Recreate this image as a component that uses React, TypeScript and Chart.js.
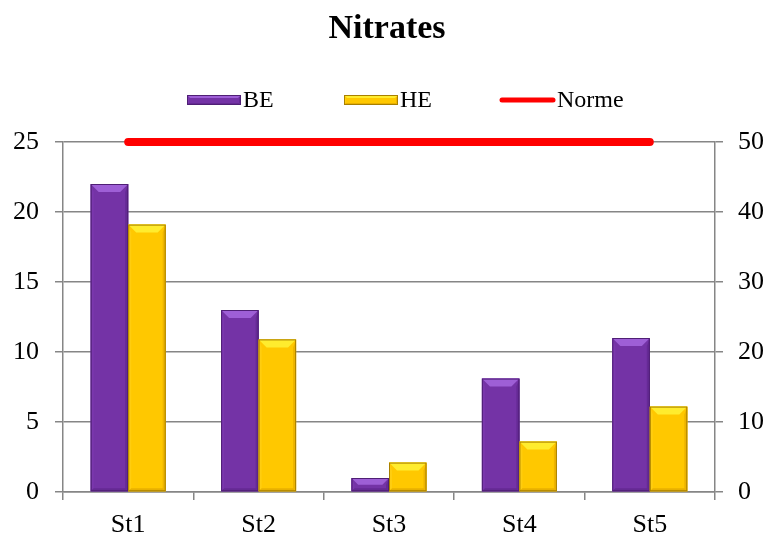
import React, { useEffect, useRef } from "react";
import { Chart, registerables } from "chart.js";

Chart.register(...registerables);

const categories = ["St1", "St2", "St3", "St4", "St5"];
const beValues = [22, 13, 1, 8.1, 11];
const heValues = [19.1, 10.9, 2.1, 3.6, 6.1];
const normeValues = [50, 50, 50, 50, 50];
const chartTitle = "Nitrates";
const seriesNames = ["BE", "HE", "Norme"];

const FONT = "'Liberation Serif', 'Times New Roman', serif";
const GRID = "#868686";

type Pal = { base: string; top: string; left: string; right: string; bottom: string; border: string };
const PURPLE: Pal = { base: "#7433A6", top: "#9E5FD6", left: "#7A37AD", right: "#652A95", bottom: "#652A93", border: "#4F1F75" };
const YELLOW: Pal = { base: "#FFC800", top: "#FFEC2E", left: "#FFCD10", right: "#EDB400", bottom: "#E8B000", border: "#A88000" };

function bevelRect(ctx: CanvasRenderingContext2D, l: number, t: number, r: number, b: number, p: Pal, tbMax: number, sMax: number) {
  const h = b - t;
  const w = r - l;
  const tb = Math.max(0, Math.min(tbMax, h / 2, w / 2));
  const s = Math.max(0, Math.min(sMax, h / 2, w / 2));
  ctx.save();
  ctx.fillStyle = p.base;
  ctx.fillRect(l, t, w, h);
  const poly = (pts: number[][], c: string) => {
    ctx.beginPath();
    ctx.moveTo(pts[0][0], pts[0][1]);
    for (let i = 1; i < pts.length; i++) ctx.lineTo(pts[i][0], pts[i][1]);
    ctx.closePath();
    ctx.fillStyle = c;
    ctx.fill();
  };
  poly([[l, t], [l + s, t + tb], [l + s, b - s], [l, b]], p.left);
  poly([[r, t], [r - s, t + tb], [r - s, b - s], [r, b]], p.right);
  poly([[l, b], [l + s, b - s], [r - s, b - s], [r, b]], p.bottom);
  poly([[l, t], [r, t], [r - tb, t + tb], [l + tb, t + tb]], p.top);
  ctx.strokeStyle = p.border;
  ctx.lineWidth = 1;
  ctx.strokeRect(l + 0.5, t + 0.5, w - 1, h - 1);
  ctx.restore();
}

const decoPlugin = {
  id: "deco",
  afterDatasetsDraw(chart: any) {
    const ctx = chart.ctx as CanvasRenderingContext2D;
    [0, 1].forEach((di) => {
      const meta = chart.getDatasetMeta(di);
      const pal = di === 0 ? PURPLE : YELLOW;
      meta.data.forEach((el: any) => {
        const { x, y, base, width } = el.getProps(["x", "y", "base", "width"], true);
        bevelRect(ctx, x - width / 2, y, x + width / 2, base, pal, 8, 3);
      });
    });
  },
  afterDraw(chart: any) {
    const ctx = chart.ctx as CanvasRenderingContext2D;
    ctx.save();
    ctx.fillStyle = "#000";
    ctx.font = `bold 34px ${FONT}`;
    ctx.textAlign = "center";
    ctx.textBaseline = "alphabetic";
    ctx.fillText(chartTitle, 387, 38);
    ctx.font = `24px ${FONT}`;
    ctx.textAlign = "left";
    ctx.textBaseline = "middle";
    const ly = 100;
    bevelRect(ctx, 187, ly - 5, 241, ly + 5, PURPLE, 3, 2);
    ctx.fillStyle = "#000";
    ctx.fillText(seriesNames[0], 243, ly + 1);
    bevelRect(ctx, 344, ly - 5, 398, ly + 5, YELLOW, 3, 2);
    ctx.fillStyle = "#000";
    ctx.fillText(seriesNames[1], 400, ly + 1);
    ctx.strokeStyle = "#FF0000";
    ctx.lineWidth = 5;
    ctx.lineCap = "round";
    ctx.beginPath();
    ctx.moveTo(502, ly);
    ctx.lineTo(553, ly);
    ctx.stroke();
    ctx.fillStyle = "#000";
    ctx.fillText(seriesNames[2], 557, ly + 1);
    ctx.restore();
  },
};

export default function App() {
  const ref = useRef<HTMLCanvasElement>(null);
  useEffect(() => {
    if (!ref.current) return;
    const chart = new Chart(ref.current, {
      type: "bar",
      data: {
        labels: categories,
        datasets: [
          { type: "bar", label: seriesNames[0], data: beValues, backgroundColor: PURPLE.base, yAxisID: "y", order: 2 },
          { type: "bar", label: seriesNames[1], data: heValues, backgroundColor: YELLOW.base, yAxisID: "y", order: 2 },
          {
            type: "line",
            label: seriesNames[2],
            data: normeValues,
            borderColor: "#FF0000",
            borderWidth: 8,
            borderCapStyle: "round",
            pointRadius: 0,
            yAxisID: "y2",
            clip: false,
            order: 1,
          } as any,
        ],
      },
      options: {
        responsive: false,
        animation: false,
        layout: { padding: { top: 142, left: 0, right: 0, bottom: 0 } },
        datasets: { bar: { categoryPercentage: 0.575, barPercentage: 1 } } as any,
        plugins: { legend: { display: false }, title: { display: false }, tooltip: { enabled: false } },
        scales: {
          x: {
            grid: { offset: true, drawOnChartArea: false, drawTicks: true, tickLength: 8, color: GRID, lineWidth: 1.5 },
            border: { display: true, color: GRID, width: 1.5 },
            ticks: { color: "#000", font: { family: FONT, size: 26 }, padding: 10 },
            afterFit: (s: any) => { s.height = 54; },
          },
          y: {
            position: "left",
            min: 0,
            max: 25,
            ticks: { stepSize: 5, color: "#000", font: { family: FONT, size: 26 }, padding: 16 },
            grid: { color: GRID, lineWidth: 1.5, tickLength: 8, drawTicks: true },
            border: { display: true, color: GRID, width: 1.5 },
            afterFit: (s: any) => { s.width = 63; },
          },
          y2: {
            position: "right",
            min: 0,
            max: 50,
            ticks: { stepSize: 10, color: "#000", font: { family: FONT, size: 26 }, padding: 15 },
            grid: { drawOnChartArea: false, color: GRID, lineWidth: 1.5, tickLength: 8, drawTicks: true },
            border: { display: true, color: GRID, width: 1.5 },
            afterFit: (s: any) => { s.width = 53; },
          },
        },
      },
      plugins: [decoPlugin],
    });
    return () => chart.destroy();
  }, []);
  return (
    <div style={{ position: "absolute", left: 0, top: 0, width: 768, height: 546, background: "#fff" }}>
      <canvas ref={ref} width={768} height={546} style={{ display: "block" }} />
    </div>
  );
}
